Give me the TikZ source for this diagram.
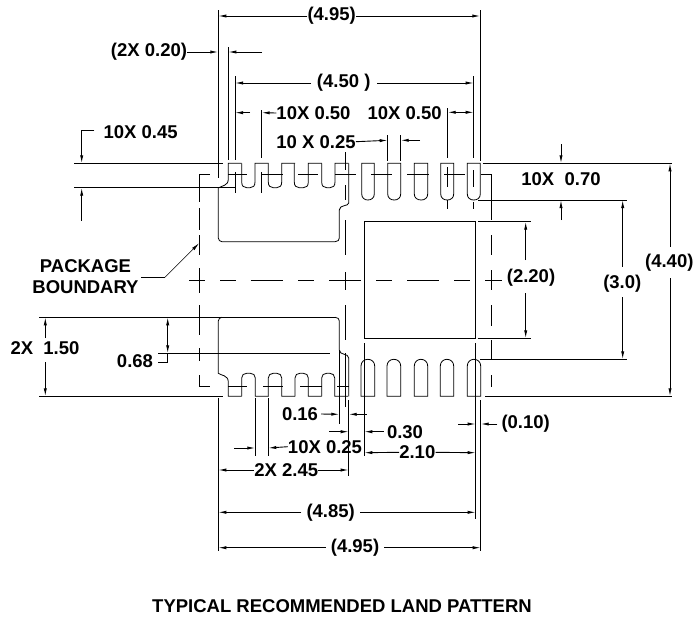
\documentclass[tikz,border=0pt]{standalone}
\usepackage{fontspec}
\setmainfont{Liberation Sans}
\usetikzlibrary{arrows.meta}
\tikzset{
  dimline/.style={line width=.9pt},
  dimarrow/.style={line width=.9pt, -{Latex[length=8pt,width=3.2pt]}},
  padline/.style={line width=.8pt},
  dimtext/.style={inner sep=0pt, font=\fontsize{18.5}{20}\selectfont\bfseries},
}
\begin{document}
\begin{tikzpicture}[x=1pt, y=-1pt]
    \useasboundingbox (0, 0) rectangle (696, 619) ;
    % lands, top row
    \draw[padline] (218.3, 188) .. controls (222, 185.5) and (228.3, 186) .. (228.3, 179) -- (228.3, 163.3) -- (241.7, 163.3) ;
    \foreach \a/\b in {241.7/255, 268.3/281.7, 294.3/308.3, 321.7/335}
      \draw[padline] (\a, 163.3) -- (\a, 182) .. controls (\a, 186) and (\a+2, 187.7) .. (\a+5, 187.7) -- (\b-5, 187.7) .. controls (\b-2, 187.7) and (\b, 186) .. (\b, 182) -- (\b, 163.3) -- (\b+13.5, 163.3) ;
    \draw[padline] (348.7, 163.3) -- (348.7, 203) .. controls (348.7, 206.5) and (339.3, 204.5) .. (339.3, 210) -- (339.3, 238) .. controls (339.3, 240) and (338, 241.7) .. (335, 241.7) -- (222, 241.7) .. controls (220, 241.7) and (218.3, 240) .. (218.3, 238) -- (218.3, 188) ;
    \foreach \a/\b in {361.7/374.3, 387.7/400.7, 414.3/427.7, 440.7/453.7, 467.3/480.3}
      \draw[padline] (\a, 194) -- (\a, 163.3) -- (\b, 163.3) -- (\b, 194) .. controls (\b, 198) and (\b-3, 200) .. (\b-6.5, 200) .. controls (\a+3, 200) and (\a, 198) .. (\a, 194) ;
    % lands, bottom row
    \draw[padline] (218.3, 321) -- (218.3, 373.3) .. controls (221, 375.5) and (228.3, 375) .. (228.3, 382) -- (228.3, 396.3) -- (241.7, 396.3) ;
    \foreach \a/\b in {241.7/255.3, 268.3/281.7, 295/308.3, 321.7/334.7}
      \draw[padline] (\a, 396.3) -- (\a, 378) .. controls (\a, 375) and (\a+2, 373.3) .. (\a+5, 373.3) -- (\b-5, 373.3) .. controls (\b-2, 373.3) and (\b, 375) .. (\b, 378) -- (\b, 396.3) -- (\b+13.3, 396.3) ;
    \draw[padline] (348.7, 396.3) -- (348.7, 358) .. controls (348.7, 353) and (339.3, 355.5) .. (339.3, 350) -- (339.3, 321) .. controls (339.3, 319) and (338, 317.3) .. (335, 317.3) ;
    \draw[padline] (218.3, 321) .. controls (218.3, 319) and (220, 317.3) .. (222, 317.3) ;
    \foreach \a/\b in {361/374.7, 387/400.7, 414.3/427.7, 440.3/453.7, 467.3/480.7}
      \draw[padline] (\a, 366) -- (\a, 396.3) -- (\b, 396.3) -- (\b, 366) .. controls (\b, 362) and (\b-3, 359.3) .. (\b-6.8, 359.3) .. controls (\a+3, 359.3) and (\a, 362) .. (\a, 366) ;
    % thermal pad
    \draw[dimline] (364.3, 221.7) rectangle (475.7, 338.3) ;
    % package boundary
    \foreach \a/\b in {174/201.7, 208/230, 235/255, 268/293, 305/335, 348/361, 375/386}
      \draw[dimline] (199.3, \a) -- (199.3, \b) ;
    \draw[dimline] (199.3, 174) -- (210, 174) ;
    \draw[dimline] (199.3, 386) -- (210, 386) ;
    \foreach \a/\b in {174/220, 235/255, 270/290, 305/325.7, 340/360, 375/387}
      \draw[dimline] (491.7, \a) -- (491.7, \b) ;
    \foreach \a/\b in {228.3/246.7, 262.3/282.7, 298.3/318.3, 335/356, 371/391.7, 407/429, 444/465, 481/491.7}
      \draw[dimline] (\a, 174.3) -- (\b, 174.3) ;
    \foreach \a/\b in {228.3/246.7, 263/283, 300/321.7, 337/348.7}
      \draw[dimline] (\a, 386) -- (\b, 386) ;
    % center lines
    \foreach \a/\b in {189/205, 220/236, 250.7/282.7, 298/314, 329/360.7, 376/391.7, 407/439, 454/470, 485/501.7}
      \draw[dimline] (\a, 280.3) -- (\b, 280.3) ;
    \foreach \a/\b in {152/170, 185/200, 220/255, 272/290, 305/340, 353/407}
      \draw[dimline] (345.5, \a) -- (345.5, \b) ;
    % extension lines, verticals
    \draw[dimline] (218.3, 10) -- (218.3, 178) ;
    \draw[dimline] (228.3, 47) -- (228.3, 160) ;
    \draw[dimline] (235, 76) -- (235, 160) ;
    \draw[dimline] (235, 172) -- (235, 193) ;
    \draw[dimline] (261.7, 110) -- (261.7, 158) ;
    \draw[dimline] (261.7, 172) -- (261.7, 193) ;
    \draw[dimline] (387.7, 135) -- (387.7, 161) ;
    \draw[dimline] (400.7, 135) -- (400.7, 161) ;
    \draw[dimline] (447.7, 108) -- (447.7, 158) ;
    \draw[dimline] (447.7, 167) -- (447.7, 187) ;
    \draw[dimline] (447.7, 200) -- (447.7, 209) ;
    \draw[dimline] (473.7, 76) -- (473.7, 158) ;
    \draw[dimline] (473.7, 170) -- (473.7, 187) ;
    \draw[dimline] (473.7, 202) -- (473.7, 209) ;
    \draw[dimline] (480.3, 10) -- (480.3, 161) ;
    \draw[dimline] (218.3, 398) -- (218.3, 551) ;
    \draw[dimline] (255.3, 398) -- (255.3, 455.7) ;
    \draw[dimline] (268.3, 398) -- (268.3, 455.7) ;
    \draw[dimline] (339.3, 350) -- (339.3, 424) ;
    \draw[dimline] (348.7, 400) -- (348.7, 475.7) ;
    \draw[dimline] (364.3, 343) -- (364.3, 455.7) ;
    \draw[dimline] (475.7, 343) -- (475.7, 519.3) ;
    \draw[dimline] (480.7, 400) -- (480.7, 551) ;
    % extension lines, horizontals
    \draw[dimline] (74, 163.3) -- (222.7, 163.3) ;
    \draw[dimline] (74, 187.7) -- (235, 187.7) ;
    \draw[dimline] (482.7, 163.3) -- (671.7, 163.3) ;
    \draw[dimline] (478, 200) -- (627, 200) ;
    \draw[dimline] (478, 221.7) -- (530.7, 221.7) ;
    \draw[dimline] (477.7, 338.3) -- (530.7, 338.3) ;
    \draw[dimline] (480, 359.3) -- (626.7, 359.3) ;
    \draw[dimline] (485, 396.3) -- (671.7, 396.3) ;
    \draw[dimline] (39.3, 317.3) -- (335, 317.3) ;
    \draw[dimline] (39.3, 396.3) -- (223, 396.3) ;
    \draw[dimline] (158.3, 353.3) -- (330, 353.3) ;
    % labels
    \draw (331.7, 16) node[dimtext] (topouter) {(4.95)} ;
    \draw (149, 52) node[dimtext] (padinset) {(2X 0.20)} ;
    \draw (343.7, 83) node[dimtext] (padspan) {(4.50 )} ;
    \draw (313.5, 113) node[dimtext] (leftpitch) {10X 0.50} ;
    \draw (404.7, 113) node[dimtext] (rightpitch) {10X 0.50} ;
    \draw (316, 141.7) node[dimtext] (topwidth) {10 X 0.25} ;
    \draw (140.7, 132.3) node[dimtext] (gaplen) {10X 0.45} ;
    \draw (561, 179.3) node[dimtext] (padlen) {10X\ \ 0.70} ;
    \draw (669.3, 262.3) node[dimtext] (outerheight) {(4.40)} ;
    \draw (622.3, 283.3) node[dimtext] (innerheight) {(3.0)} ;
    \draw (531, 277.3) node[dimtext] (thermalheight) {(2.20)} ;
    \draw (85.5, 266) node[dimtext] (pkgone) {PACKAGE} ;
    \draw (85.5, 287) node[dimtext] (pkgtwo) {BOUNDARY} ;
    \draw (45, 348) node[dimtext] (landheight) {2X\ \ 1.50} ;
    \draw (135, 360.7) node[dimtext] (notchheight) {0.68} ;
    \draw (300, 414) node[dimtext] (notchwidth) {0.16} ;
    \draw (405, 431.7) node[dimtext] (thermalgap) {0.30} ;
    \draw (525.7, 424) node[dimtext] (overhang) {(0.10)} ;
    \draw (325, 446.7) node[dimtext] (bottomwidth) {10X 0.25} ;
    \draw (417.3, 452.3) node[dimtext] (thermalwidth) {2.10} ;
    \draw (286.3, 470) node[dimtext] (landwidth) {2X 2.45} ;
    \draw (330.7, 512.3) node[dimtext] (bottomspan) {(4.85)} ;
    \draw (355, 547.7) node[dimtext] (bottomouter) {(4.95)} ;
    \draw (342, 605.7) node[dimtext] (title) {TYPICAL RECOMMENDED LAND PATTERN} ;
    % dimension arrows
    \draw[dimarrow] (topouter.west) -- (218.3, 16) ;
    \draw[dimarrow] (topouter.east) -- (480.3, 16) ;
    \draw[dimarrow] (padinset.east) -- (218.3, 52) ;
    \draw[dimarrow] (262, 52) -- (228.3, 52) ;
    \draw[dimarrow] (311, 83) -- (235, 83) ;
    \draw[dimarrow] (377, 83) -- (473.7, 83) ;
    \draw[dimarrow] (250, 112.7) -- (235, 112.7) ;
    \draw[dimarrow] (leftpitch.west) -- (261.7, 112.7) ;
    \draw[dimarrow] (460, 112.3) -- (447.7, 112.3) ;
    \draw[dimarrow] (460, 112.3) -- (473.7, 112.3) ;
    \draw[dimarrow] (topwidth.east) -- (387.7, 140.3) ;
    \draw[dimarrow] (420, 140.3) -- (400.7, 140.3) ;
    \draw[dimline] (gaplen.west) ++(-9, -2) -- (81.7, 130.3) ;
    \draw[dimarrow] (81.7, 130.3) -- (81.7, 163.3) ;
    \draw[dimarrow] (81.7, 220.7) -- (81.7, 187.7) ;
    \draw[dimarrow] (561, 144.3) -- (561, 163.3) ;
    \draw[dimarrow] (561, 220) -- (561, 200) ;
    \draw[dimarrow] (670, 246.7) -- (670, 163.3) ;
    \draw[dimarrow] (670, 278.3) -- (670, 396.3) ;
    \draw[dimarrow] (622.7, 266.7) -- (622.7, 200) ;
    \draw[dimarrow] (622.7, 297.3) -- (622.7, 359.3) ;
    \draw[dimarrow] (525.7, 260) -- (525.7, 221.7) ;
    \draw[dimarrow] (525.7, 293.3) -- (525.7, 338.3) ;
    \draw[dimline] (141, 277.3) -- (165, 277.3) ;
    \draw[line width=.5pt, -{Latex[length=8pt,width=3.2pt]}] (165, 277.3) -- (199, 243.3) ;
    \draw[dimarrow] (45.3, 338) -- (45.3, 317.3) ;
    \draw[dimarrow] (45.3, 362) -- (45.3, 396.3) ;
    \draw[dimarrow] (167.7, 335) -- (167.7, 317.3) ;
    \draw[dimarrow] (167.7, 335) -- (167.7, 353.3) ;
    \draw[dimline] (notchheight.east) ++(5, 1.6) -- (167.7, 362.3) -- (167.7, 353.3) ;
    \draw[dimarrow] (notchwidth.east) ++(3, 0) -- (339.3, 414.3) ;
    \draw[dimarrow] (366.7, 414.3) -- (348.7, 414.3) ;
    \draw[dimarrow] (329, 431.7) -- (348.7, 431.7) ;
    \draw[dimarrow] (thermalgap.west) ++(-3, 0) -- (364.3, 431.7) ;
    \draw[dimarrow] (458.3, 424) -- (475.7, 424) ;
    \draw[dimarrow] (overhang.west) ++(-4, 0) -- (480.7, 424) ;
    \draw[dimarrow] (234, 448) -- (255.3, 448) ;
    \draw[dimarrow] (bottomwidth.west) -- (268.3, 448) ;
    \draw[dimarrow] (thermalwidth.west) -- (364.3, 452.7) ;
    \draw[dimarrow] (thermalwidth.east) -- (475.7, 452.7) ;
    \draw[dimarrow] (landwidth.west) -- (218.3, 470) ;
    \draw[dimarrow] (landwidth.east) -- (348.7, 470) ;
    \draw[dimarrow] (bottomspan.west) ++(-5, 0) -- (218.3, 512.3) ;
    \draw[dimarrow] (bottomspan.east) ++(5, 0) -- (475.7, 512.3) ;
    \draw[dimarrow] (bottomouter.west) ++(-5, 0) -- (218.3, 547.7) ;
    \draw[dimarrow] (bottomouter.east) ++(5, 0) -- (480.7, 547.7) ;
  \end{tikzpicture}
\end{document}
